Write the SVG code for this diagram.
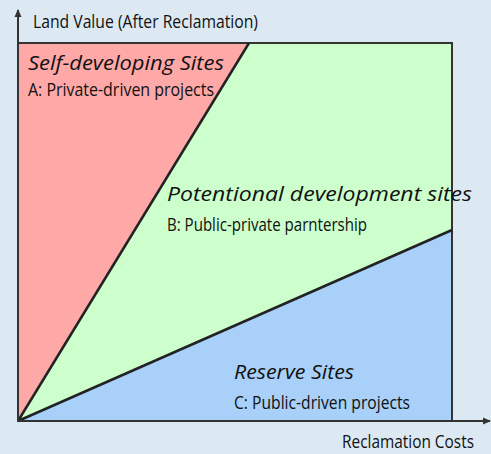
<svg xmlns="http://www.w3.org/2000/svg" width="491" height="454" viewBox="0 0 491 454">
<style>
.t{font-family:"Open Sans","Liberation Sans",sans-serif;fill:#111}
.n{font-size:17.5px}
.i{font-size:20.5px;font-style:italic}
.ax{stroke:#333;stroke-width:2;fill:none}
.div{stroke:#222;stroke-width:2.5;fill:none}
</style>
<defs>
<marker id="arr" markerWidth="8" markerHeight="8" refX="7" refY="4" orient="auto" markerUnits="userSpaceOnUse">
<path d="M0,0.5 L8,4 L0,7.5 Z" fill="#333"/>
</marker>
</defs>
<rect width="491" height="454" fill="#dce9f3"/>
<g id="regionA"><polygon points="18,421 18,43 249,43" fill="#ffa8a8"/></g>
<g id="regionB"><polygon points="18,421 249,43 452,43 452,230" fill="#ccffcc"/></g>
<g id="regionC"><polygon points="18,421 452,230 452,421" fill="#a8d0f8"/></g>
<g id="connectors">
<rect x="18" y="43" width="434" height="378" class="ax"/>
<line x1="18" y1="421" x2="249" y2="43" class="div"/>
<line x1="18" y1="421" x2="452" y2="230" class="div"/>
<line x1="18" y1="421" x2="18" y2="10" class="ax" marker-end="url(#arr)"/>
<line x1="18" y1="421" x2="490" y2="421" class="ax" marker-end="url(#arr)"/>
</g>
<g id="labels">
<text class="t n" x="33" y="28" textLength="225" lengthAdjust="spacingAndGlyphs">Land Value (After Reclamation)</text>
<text class="t i" x="28" y="70" textLength="196" lengthAdjust="spacingAndGlyphs">Self-developing Sites</text>
<text class="t n" x="28" y="96" textLength="186" lengthAdjust="spacingAndGlyphs">A: Private-driven projects</text>
<text class="t i" x="167" y="201" textLength="305" lengthAdjust="spacingAndGlyphs">Potentional development sites</text>
<text class="t n" x="167" y="231" textLength="200" lengthAdjust="spacingAndGlyphs">B: Public-private parntership</text>
<text class="t i" x="234" y="379" textLength="120" lengthAdjust="spacingAndGlyphs">Reserve Sites</text>
<text class="t n" x="234" y="409" textLength="176" lengthAdjust="spacingAndGlyphs">C: Public-driven projects</text>
<text class="t n" x="342" y="448" textLength="132" lengthAdjust="spacingAndGlyphs">Reclamation Costs</text>
</g>
</svg>
